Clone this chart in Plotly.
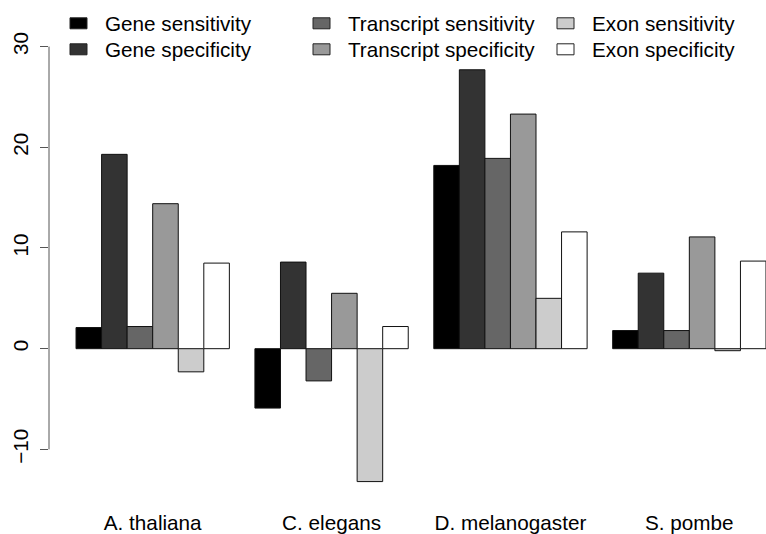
import plotly.graph_objects as go

categories = ["A. thaliana", "C. elegans", "D. melanogaster", "S. pombe"]
series_names = ["Gene sensitivity", "Gene specificity", "Transcript sensitivity",
                "Transcript specificity", "Exon sensitivity", "Exon specificity"]
gene_sens = [2.1, -5.9, 18.2, 1.8]
gene_spec = [19.3, 8.6, 27.7, 7.5]
tx_sens = [2.2, -3.2, 18.9, 1.8]
tx_spec = [14.4, 5.5, 23.3, 11.1]
exon_sens = [-2.3, -13.2, 5.0, -0.2]
exon_spec = [8.5, 2.2, 11.6, 8.7]
series_values = [gene_sens, gene_spec, tx_sens, tx_spec, exon_sens, exon_spec]
colors = ["#000000", "#333333", "#666666", "#999999", "#CCCCCC", "#FFFFFF"]
y_ticks = [-10, 0, 10, 20, 30]
y_tick_labels = ["\u221210", "0", "10", "20", "30"]

W, H = 766, 534
ML, MR, MT, MB = 49, 0, 0, 36
PW, PH = W - ML - MR, H - MT - MB
FONT = "Liberation Sans, Arial, sans-serif"
FS = 20.7

def px(x):
    return (x - ML) / PW

def py(y):
    return 1 - (y - MT) / PH

fig = go.Figure()
for name, vals, col in zip(series_names, series_values, colors):
    fig.add_trace(go.Bar(x=categories, y=vals, name=name,
                         marker=dict(color=col, line=dict(color="#111111", width=1)),
                         showlegend=False))

shapes = [dict(type="line", xref="paper", yref="y", x0=0, x1=0, y0=min(y_ticks), y1=max(y_ticks),
               line=dict(color="#555555", width=1))]
annotations = []
# manual legend (3 columns x 2 rows, R-style)
col_box_x = [70, 313, 557]
row_y = [23.3, 49.3]
for i, (name, col) in enumerate(zip(series_names, colors)):
    c, r = i // 2, i % 2
    bx, by = col_box_x[c], row_y[r]
    shapes.append(dict(type="rect", xref="paper", yref="paper",
                       x0=px(bx), x1=px(bx + 17), y0=py(by - 5.5), y1=py(by + 5.5),
                       fillcolor=col, line=dict(color="#222222", width=1)))
    annotations.append(dict(text=name, xref="paper", yref="paper", x=px(bx + 33), y=py(by),
                            xanchor="left", yanchor="middle", showarrow=False,
                            font=dict(family=FONT, size=FS, color="black")))

fig.update_layout(
    width=W, height=H,
    margin=dict(l=ML, r=MR, t=MT, b=MB, pad=0),
    paper_bgcolor="white", plot_bgcolor="white",
    barmode="group", bargap=1/7, bargroupgap=0,
    font=dict(family=FONT, size=FS, color="black"),
    shapes=shapes, annotations=annotations,
    xaxis=dict(range=[-0.5797, 3.4286], showgrid=False, zeroline=False, showline=False,
               ticks="", ticklabelstandoff=10,
               tickfont=dict(family=FONT, size=FS, color="black")),
    yaxis=dict(range=[-14.83, 34.63], showgrid=False, zeroline=False, showline=False,
               tickvals=y_ticks, ticktext=y_tick_labels, ticks="outside", ticklen=8,
               tickcolor="#555555", ticklabelstandoff=4,
               tickangle=-90, tickfont=dict(family=FONT, size=FS, color="black")),
)
fig.write_html("out.html")
